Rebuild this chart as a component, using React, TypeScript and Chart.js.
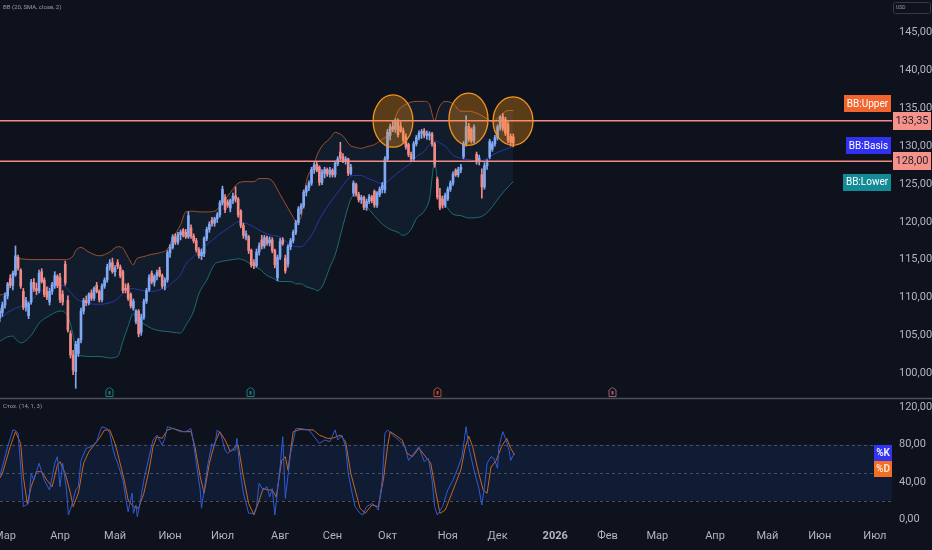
import React, { useEffect, useRef } from 'react';
import { Chart, registerables } from 'chart.js';

Chart.register(...registerables);

// ---------- data ----------
const firstIndex = -2; // bar index of first candle (0 = 3 Mar 2025)

// [open, high, low, close]
const candles: [number, number, number, number][] = [
  [107.3, 108.6, 106.8, 108.2], [108.0, 109.4, 107.5, 109.0], [109.0, 110.6, 108.6, 110.2], [110.2, 112.0, 109.8, 111.8],
  [112.5, 113.0, 111.3, 111.6], [111.6, 113.5, 111.0, 113.2], [113.0, 116.8, 112.8, 115.5], [115.3, 115.6, 113.6, 113.9],
  [113.6, 113.8, 111.2, 111.5], [110.8, 111.2, 108.4, 108.7], [108.7, 110.0, 108.2, 109.6], [107.6, 109.4, 107.2, 109.2],
  [109.4, 112.4, 109.1, 112.0], [112.0, 112.5, 110.8, 111.2], [111.2, 111.9, 110.4, 110.9], [110.9, 113.6, 110.6, 113.2],
  [113.4, 113.8, 111.9, 112.1], [112.3, 112.6, 110.1, 110.4], [110.8, 111.4, 109.7, 110.0], [109.4, 111.2, 109.0, 110.8],
  [110.8, 112.0, 110.4, 111.7], [111.6, 113.4, 111.2, 112.9], [112.8, 113.0, 111.3, 111.6], [112.6, 113.2, 109.3, 109.7],
  [110.4, 110.9, 109.0, 109.4], [114.4, 114.8, 111.6, 111.9], [109.6, 110.2, 105.4, 105.7], [105.2, 105.6, 102.0, 102.4],
  [102.4, 103.0, 99.8, 100.4], [100.2, 104.2, 98.0, 103.8], [102.6, 104.6, 102.2, 104.4], [104.4, 108.6, 104.0, 108.2],
  [108.2, 109.9, 107.8, 109.6], [109.6, 110.2, 108.9, 109.3], [109.3, 110.6, 109.0, 110.4], [110.6, 111.0, 109.6, 109.9],
  [109.9, 111.4, 109.6, 111.2], [111.6, 112.0, 110.6, 110.8], [110.8, 111.0, 109.4, 109.7], [109.7, 111.8, 109.4, 111.5],
  [111.5, 112.6, 111.2, 112.3], [112.3, 114.4, 112.0, 114.0], [114.0, 115.0, 113.6, 114.6], [114.6, 115.2, 113.2, 113.4],
  [113.4, 114.2, 112.8, 113.9], [114.6, 115.0, 113.8, 114.1], [114.0, 114.3, 112.6, 112.9], [113.4, 113.6, 110.6, 110.9],
  [111.2, 111.8, 110.6, 111.0], [111.6, 111.9, 109.6, 109.9], [110.4, 110.6, 108.6, 108.9], [108.6, 109.8, 108.3, 109.5],
  [106.8, 108.4, 106.5, 108.2], [108.2, 108.4, 104.8, 105.2], [105.4, 107.8, 105.0, 107.4], [107.4, 109.8, 107.1, 109.5],
  [109.5, 111.2, 109.2, 110.9], [111.0, 113.0, 110.8, 112.6], [113.2, 113.5, 111.8, 112.1], [112.0, 113.0, 111.5, 112.8],
  [112.8, 113.6, 112.3, 113.3], [113.6, 114.0, 112.7, 112.9], [112.9, 113.1, 111.2, 111.5], [111.5, 112.6, 111.0, 112.3],
  [112.3, 116.2, 112.0, 115.9], [115.9, 117.0, 115.3, 116.6], [116.6, 118.3, 116.4, 118.0], [118.0, 118.4, 117.0, 117.3],
  [117.3, 118.6, 117.0, 118.3], [118.3, 118.9, 117.6, 118.6], [118.9, 119.1, 118.0, 118.2], [118.6, 119.0, 117.8, 118.0],
  [118.0, 121.3, 117.8, 120.8], [119.2, 119.6, 117.8, 118.1], [118.1, 118.4, 117.2, 117.5], [117.5, 117.8, 116.0, 116.3],
  [116.3, 116.6, 115.2, 115.5], [115.5, 116.4, 115.0, 116.0], [115.8, 118.0, 115.4, 117.8], [117.8, 119.3, 117.5, 119.0],
  [119.0, 120.0, 118.6, 119.7], [120.2, 120.6, 119.4, 119.8], [119.8, 120.6, 119.4, 120.4], [120.4, 121.2, 119.9, 120.9],
  [120.9, 122.8, 120.6, 122.5], [122.5, 124.7, 122.2, 124.3], [123.2, 123.6, 121.2, 121.6], [122.6, 122.9, 121.9, 122.2],
  [121.8, 123.0, 121.3, 122.8], [122.8, 123.8, 122.4, 123.4], [123.4, 124.6, 122.6, 123.0], [123.0, 123.2, 120.6, 120.9],
  [121.4, 121.6, 119.2, 119.5], [119.5, 119.8, 117.8, 118.2], [118.0, 118.8, 117.6, 118.4], [118.0, 118.2, 115.8, 116.2],
  [116.2, 116.4, 114.0, 114.3], [114.6, 115.0, 113.8, 114.2], [114.2, 116.4, 114.0, 116.0], [116.0, 117.2, 115.6, 116.8],
  [117.6, 118.2, 116.4, 116.8], [116.8, 118.2, 116.5, 117.9], [117.9, 118.1, 116.9, 117.2], [117.2, 118.0, 116.8, 117.6],
  [117.6, 117.9, 115.9, 116.2], [116.2, 116.4, 113.9, 114.3], [112.6, 115.6, 112.2, 115.3], [115.3, 117.8, 115.0, 117.4],
  [117.6, 117.9, 116.9, 117.1], [115.2, 115.6, 113.2, 113.5], [114.4, 117.0, 114.0, 116.7], [116.7, 117.8, 116.3, 117.5],
  [117.5, 118.9, 117.2, 118.6], [118.6, 120.2, 118.3, 119.9], [119.9, 122.0, 119.6, 121.7], [121.7, 122.4, 121.0, 122.1],
  [122.1, 124.2, 121.8, 123.9], [123.9, 124.8, 123.4, 124.5], [124.5, 125.4, 124.1, 125.1], [125.1, 127.2, 124.8, 126.9],
  [126.9, 127.8, 126.4, 127.5], [127.6, 127.9, 126.6, 126.8], [127.2, 127.4, 124.8, 125.2], [125.2, 126.9, 124.9, 126.6],
  [126.4, 127.2, 125.8, 126.9], [126.9, 127.1, 126.0, 126.3], [126.3, 127.2, 125.9, 126.8], [126.8, 127.0, 125.9, 126.2],
  [126.2, 128.0, 125.9, 127.7], [127.7, 128.6, 127.4, 128.3], [129.2, 130.5, 128.1, 128.4], [128.6, 129.0, 127.8, 128.0],
  [128.0, 128.6, 127.6, 128.3], [128.3, 128.4, 126.1, 126.4], [126.4, 127.6, 126.2, 127.2], [123.8, 125.4, 123.4, 125.1],
  [124.9, 125.1, 123.4, 123.6], [123.6, 123.9, 122.6, 122.9], [122.9, 123.5, 122.4, 123.2], [123.2, 123.4, 121.6, 121.9],
  [121.9, 123.0, 121.5, 122.7], [122.7, 123.6, 122.4, 123.3], [123.3, 123.5, 122.5, 122.8], [124.0, 124.2, 121.9, 122.2],
  [122.2, 124.0, 121.9, 123.8], [123.6, 124.6, 123.3, 124.3], [124.3, 125.2, 123.8, 124.8], [124.2, 128.6, 123.8, 128.3],
  [128.3, 132.2, 128.0, 131.8], [131.4, 132.9, 130.8, 132.5], [132.6, 133.3, 131.9, 132.2], [132.2, 133.6, 131.8, 133.2],
  [133.2, 133.6, 131.2, 131.5], [132.6, 133.2, 131.8, 132.0], [132.0, 132.4, 130.5, 130.8], [131.2, 131.6, 129.6, 129.9],
  [130.2, 130.4, 128.6, 128.9], [128.9, 129.2, 128.0, 128.3], [128.3, 130.6, 128.0, 130.3], [130.3, 131.4, 130.0, 131.1],
  [131.1, 132.0, 130.8, 131.7], [131.7, 132.2, 131.0, 131.9], [132.0, 132.3, 131.1, 131.4], [131.4, 132.0, 130.9, 131.7],
  [131.4, 131.9, 130.8, 131.6], [131.6, 131.8, 130.0, 130.3], [130.3, 130.5, 127.2, 127.6], [125.6, 125.9, 123.0, 123.3],
  [123.4, 124.4, 121.6, 121.9], [123.0, 123.4, 121.8, 122.2], [122.2, 123.8, 121.9, 123.5], [123.0, 124.6, 122.8, 124.3],
  [124.3, 125.4, 124.0, 125.1], [125.1, 126.6, 124.8, 126.3], [126.8, 127.0, 126.0, 126.2], [126.2, 127.2, 125.9, 126.9],
  [126.9, 127.6, 126.5, 127.2], [128.6, 130.6, 128.3, 130.3], [130.3, 134.0, 130.0, 132.5], [132.6, 133.0, 130.6, 130.9],
  [132.2, 132.4, 130.4, 130.7], [130.7, 132.8, 130.4, 132.5], [128.9, 129.2, 127.6, 127.9], [127.9, 128.8, 127.5, 128.4],
  [126.2, 127.0, 123.1, 124.6], [124.6, 127.8, 124.3, 127.4], [127.4, 128.2, 126.9, 127.8], [128.6, 130.9, 128.3, 130.6],
  [129.6, 130.6, 129.3, 130.3], [130.3, 131.4, 130.0, 131.1], [131.1, 132.8, 130.8, 132.5], [132.5, 134.0, 132.1, 133.8],
  [133.9, 134.3, 132.0, 132.3], [133.5, 133.8, 131.4, 131.7], [132.9, 133.2, 130.4, 130.8], [131.3, 131.6, 130.0, 130.5],
  [131.2, 131.6, 129.9, 130.4],
];

// Bollinger bands (20, SMA, close, 2)
const bbIdx = [-2, 1, 3, 4, 5, 6, 10, 13, 17, 21, 23, 26, 27, 29, 32, 36, 40, 43, 45, 47, 49, 50, 53, 56, 59, 62, 64, 67, 69, 72, 74, 77, 80, 82, 85, 87, 89, 92, 95, 97, 100, 102, 105, 108, 110, 111, 113, 115, 118, 119, 121, 124, 126, 129, 132, 133, 136, 138, 141, 144, 147, 150, 152, 155, 157, 160, 162, 164, 165, 166, 168, 171, 174, 177, 181, 184, 186, 189, 192, 194];
const bbUpper = [110.3, 110.8, 112.4, 114.6, 115.0, 115.1, 115.0, 115.0, 115.0, 115.0, 115.0, 115.5, 116.2, 116.6, 116.0, 115.5, 116.0, 116.7, 116.5, 115.3, 114.3, 115.0, 115.4, 115.7, 115.9, 116.4, 117.8, 119.6, 121.3, 121.4, 121.3, 121.3, 121.4, 122.0, 123.4, 124.3, 125.1, 125.3, 125.3, 125.7, 125.7, 125.4, 123.6, 121.8, 120.6, 120.0, 120.6, 125.3, 127.6, 128.7, 130.0, 131.0, 131.8, 131.3, 130.0, 129.9, 129.7, 129.9, 130.2, 130.9, 131.8, 134.6, 135.3, 135.8, 135.9, 135.9, 135.5, 133.3, 134.4, 135.3, 135.9, 135.6, 134.6, 134.6, 134.2, 133.6, 133.2, 134.0, 134.7, 134.7];
const bbBasis = [107.2, 108.0, 108.4, 108.6, 108.7, 108.8, 109.6, 110.6, 111.4, 111.6, 111.4, 110.3, 109.9, 109.5, 109.2, 109.1, 109.3, 109.8, 110.5, 111.0, 111.2, 111.1, 110.9, 110.8, 111.0, 111.4, 112.0, 113.0, 114.4, 115.4, 116.1, 117.0, 117.8, 118.4, 119.1, 119.6, 120.0, 119.8, 119.3, 118.9, 118.4, 118.2, 118.0, 117.2, 116.8, 116.7, 116.7, 117.3, 118.8, 119.6, 120.9, 122.5, 123.4, 124.8, 126.0, 126.1, 126.1, 125.8, 125.4, 125.0, 125.6, 126.5, 127.0, 127.8, 128.6, 129.3, 130.2, 130.7, 130.6, 130.4, 130.0, 128.8, 128.4, 128.2, 128.0, 128.4, 128.8, 129.3, 129.7, 130.0];
const bbLower = [104.2, 104.8, 104.9, 104.5, 104.2, 104.0, 105.0, 106.6, 107.6, 108.2, 108.0, 105.0, 102.6, 102.3, 102.2, 102.2, 102.0, 102.2, 104.2, 106.2, 107.9, 107.2, 106.5, 105.9, 105.6, 105.5, 105.4, 105.3, 106.3, 108.2, 110.5, 112.3, 114.4, 114.7, 114.9, 115.0, 115.1, 114.8, 114.1, 113.8, 112.9, 112.6, 112.1, 112.1, 112.0, 111.8, 111.8, 111.4, 111.1, 110.9, 111.4, 114.0, 115.6, 119.5, 123.0, 123.4, 122.8, 122.0, 120.8, 119.7, 119.0, 118.6, 118.2, 119.0, 120.4, 121.4, 123.0, 127.8, 125.5, 123.7, 122.3, 121.0, 120.8, 120.5, 120.6, 121.2, 122.0, 123.4, 124.6, 125.3];

// Stochastic (14, 1, 3)
const kIdx = [-2, -1, 1, 3, 4, 5, 6, 7, 9, 10, 11, 13, 15, 17, 19, 20, 21, 22, 23.5, 24.2, 25.5, 27, 28, 29, 31, 33, 35, 36, 37, 39, 40, 41, 42, 43, 45, 46, 47, 48.5, 49, 50, 50.5, 51.5, 53, 55, 56.5, 58, 60, 61, 62, 64, 67, 69, 71, 72, 73, 74.5, 75, 76, 77.5, 79, 80, 81, 82.5, 84, 85, 86.5, 88, 88.5, 89.7, 91, 93, 95, 96, 97, 98.5, 100, 101, 102, 103, 105, 106, 107, 109, 111, 112.6, 116, 120, 122, 124, 126, 127, 128.6, 130, 131, 132.5, 133.6, 135.5, 136.6, 138, 140, 141, 142.5, 144, 145, 146, 148, 151, 152.7, 154, 156, 158, 160, 161.6, 163, 164, 165, 167, 169, 171, 173, 174.4, 176, 177, 179, 181, 182, 183, 184, 185.5, 186.6, 188, 188.5, 190, 191, 192.4, 193, 194.3];
const kVals = [45.7, 56, 77.7, 95.5, 95, 92, 56, 13.7, 17, 49, 42, 60, 42, 31.5, 60, 67, 35, 60, 31.5, 4.8, 15.5, 31.5, 35, 63, 76, 77.7, 83, 92, 99, 97, 92, 77.7, 67, 60, 42, 24, 8.3, 28, 6.6, 15.5, 3, 17, 42, 67, 84.8, 90, 79.5, 86.6, 99, 97.2, 93.7, 93.7, 97, 81, 60, 31.5, 12, 31.5, 60, 81, 77.7, 95.5, 90, 74, 70.6, 74, 74, 86.6, 52.8, 28, 6.6, 6.6, 13.7, 38.6, 31.5, 35, 24, 33, 4.8, 56, 88.3, 22.6, 70.6, 97, 97, 95.5, 81, 84.8, 83, 95.5, 84.8, 90, 77.7, 49, 28, 13.7, 6.6, 4.8, 13.7, 17, 15.5, 10, 42, 92, 95.5, 90, 83, 77.7, 63, 70.6, 77.7, 61.7, 65.2, 42, 13.7, 4.8, 13.7, 31.5, 42, 56, 67, 99, 77.7, 52.8, 31.5, 15.5, 35, 60, 67, 65, 54.6, 77.7, 93.7, 86.6, 74, 63, 70.6];
const dIdx = [-2, -1, 2, 4, 6, 7, 8.5, 10, 12, 14, 16, 18, 20, 21, 23, 25, 26, 28, 30, 32, 34, 36, 38, 40, 42, 43, 45.5, 47, 49, 51, 53, 55, 56.5, 58, 60, 62, 64, 68, 71, 72.5, 74.5, 76, 78, 80, 82, 84, 86, 88, 89, 91, 93, 95, 96.6, 98.5, 100.5, 102, 103.5, 105.6, 107, 108, 110, 112.6, 117.7, 120, 123, 125, 128, 130, 132, 134, 135.5, 137.5, 140, 142.5, 144.5, 146, 147, 149, 151.6, 153.5, 155.5, 158, 160, 162.5, 164.3, 166, 168, 170, 172, 174, 175.5, 177, 178.5, 180.5, 182.5, 184, 185.5, 187.5, 189.5, 191.5, 193, 194.5];
const dVals = [44, 49, 77.7, 93.7, 81, 45.7, 17, 35, 51, 51, 42, 35, 58, 61.7, 49, 28, 13.7, 28, 60, 72.3, 79.5, 86.6, 95.5, 95.5, 81, 70.6, 42, 20.8, 13.7, 12, 28, 52.8, 77.7, 88.3, 86.6, 95.5, 97.2, 93.7, 93.7, 77.7, 45.7, 28, 60, 81, 93.7, 84.8, 72.3, 77.7, 79.5, 45.7, 17, 4.8, 17, 33, 31.5, 31.5, 24, 63, 67, 52.8, 93.7, 96, 95.5, 90, 86.6, 86.6, 90, 83, 49, 28, 12, 6.6, 15.5, 13.7, 44, 77.7, 93.7, 90, 84.8, 70.6, 67, 76, 68.8, 60, 31.5, 6.6, 10, 24, 38.6, 52.8, 75, 89, 77.7, 52.8, 31.5, 28, 56, 63, 77.7, 86.6, 76, 68.8];

// axes
const monthTickIdx = [0, 21, 42, 63, 83, 105, 125, 146, 169, 188, 210, 230, 249, 271, 291, 311, 332];
const monthLabels = ['Мар', 'Апр', 'Май', 'Июн', 'Июл', 'Авг', 'Сен', 'Окт', 'Ноя', 'Дек', '2026', 'Фев', 'Мар', 'Апр', 'Май', 'Июн', 'Июл'];
const priceTicks = [100, 105, 110, 115, 120, 125, 130, 135, 140, 145];
const stochTicks = [0, 40, 80, 120];
const stochLevels = [20, 50, 80];

// drawings
const hLinePrices = [133.35, 128.0];
const circleIdx = [148.1, 176.9, 193.9];
const circlePrice = [133.3, 133.55, 133.3];
const circleRIdx = [7.6, 7.45, 7.6];
const circleRPrice = [3.45, 3.45, 3.2];
const eventIdx = [39.7, 93.5, 164.9, 231.7];
const eventColors = ['#1d7b80', '#1d7b80', '#c2492d', '#a35d6c'];
const bbTagText = ['BB:Upper', 'BB:Basis', 'BB:Lower'];
const bbTagPrice = [135.62, 130.07, 125.25];
const bbTagColors = ['#f2652f', '#3131f2', '#138b97'];

// ---------- styling ----------
const W = 932;
const H = 550;
const BG = '#0d121d';
const TEXT = '#b2b5be';
const FONT = 'Roboto, "Noto Sans", sans-serif';
const UP = '#82a9f3';
const DOWN = '#f08b88';

const fmt = (v: number) => v.toFixed(2).replace('.', ',');

function roundRect(ctx: CanvasRenderingContext2D, x: number, y: number, w: number, h: number, r: number) {
  ctx.beginPath();
  ctx.moveTo(x + r, y);
  ctx.lineTo(x + w - r, y);
  ctx.quadraticCurveTo(x + w, y, x + w, y + r);
  ctx.lineTo(x + w, y + h - r);
  ctx.quadraticCurveTo(x + w, y + h, x + w - r, y + h);
  ctx.lineTo(x + r, y + h);
  ctx.quadraticCurveTo(x, y + h, x, y + h - r);
  ctx.lineTo(x, y + r);
  ctx.quadraticCurveTo(x, y, x + r, y);
  ctx.closePath();
}

const decor = {
  id: 'tvDecor',
  beforeDraw(chart: any) {
    const { ctx, width, height } = chart;
    ctx.save();
    ctx.fillStyle = BG;
    ctx.fillRect(0, 0, width, height);
    ctx.restore();
  },
  beforeDatasetsDraw(chart: any) {
    const { ctx, chartArea } = chart;
    const y2 = chart.scales.y2;
    ctx.save();
    const top = y2.getPixelForValue(stochLevels[2]);
    const bot = y2.getPixelForValue(stochLevels[0]);
    ctx.fillStyle = 'rgba(30, 95, 190, 0.14)';
    ctx.fillRect(chartArea.left, top, chartArea.right - chartArea.left, bot - top);
    ctx.setLineDash([3, 3]);
    ctx.strokeStyle = '#4a4f5b';
    ctx.lineWidth = 1;
    for (const v of stochLevels) {
      const py = Math.round(y2.getPixelForValue(v)) + 0.5;
      ctx.beginPath();
      ctx.moveTo(chartArea.left, py);
      ctx.lineTo(chartArea.right, py);
      ctx.stroke();
    }
    ctx.restore();
  },
  afterDatasetsDraw(chart: any) {
    const { ctx, chartArea } = chart;
    const x = chart.scales.x;
    const y = chart.scales.y;
    ctx.save();
    // horizontal price lines
    ctx.strokeStyle = '#f28b85';
    ctx.lineWidth = 1.5;
    for (const p of hLinePrices) {
      const py = y.getPixelForValue(p);
      ctx.beginPath();
      ctx.moveTo(chartArea.left, py);
      ctx.lineTo(chartArea.right, py);
      ctx.stroke();
    }
    // circles
    for (let k = 0; k < circleIdx.length; k++) {
      const cx = x.getPixelForValue(circleIdx[k]);
      const cy = y.getPixelForValue(circlePrice[k]);
      const rx = Math.abs(x.getPixelForValue(circleIdx[k] + circleRIdx[k]) - cx);
      const ry = Math.abs(y.getPixelForValue(circlePrice[k] + circleRPrice[k]) - cy);
      ctx.beginPath();
      ctx.ellipse(cx, cy, rx, ry, 0, 0, Math.PI * 2);
      ctx.fillStyle = 'rgba(255, 150, 20, 0.32)';
      ctx.fill();
      ctx.strokeStyle = '#f5941f';
      ctx.lineWidth = 1.3;
      ctx.stroke();
    }
    // event markers
    const ey = y.bottom - 6;
    for (let k = 0; k < eventIdx.length; k++) {
      const ex = Math.round(x.getPixelForValue(eventIdx[k])) + 0.5;
      ctx.beginPath();
      ctx.moveTo(ex - 3.5, ey + 4.5);
      ctx.lineTo(ex + 3.5, ey + 4.5);
      ctx.lineTo(ex + 3.5, ey - 2);
      ctx.lineTo(ex, ey - 4.5);
      ctx.lineTo(ex - 3.5, ey - 2);
      ctx.closePath();
      ctx.fillStyle = BG;
      ctx.fill();
      ctx.strokeStyle = eventColors[k];
      ctx.lineWidth = 1;
      ctx.stroke();
      ctx.fillStyle = eventColors[k];
      ctx.fillRect(ex - 1, ey - 1, 2, 3.5);
    }
    // pane separator
    ctx.strokeStyle = '#4c505b';
    ctx.lineWidth = 1.5;
    ctx.beginPath();
    ctx.moveTo(0, y.bottom + 0.5);
    ctx.lineTo(W, y.bottom + 0.5);
    ctx.stroke();
    // indicator titles
    ctx.fillStyle = '#9a9da6';
    ctx.font = `6px ${FONT}`;
    ctx.textBaseline = 'middle';
    ctx.textAlign = 'left';
    ctx.fillText('BB (20, SMA, close, 2)', 3, 7);
    ctx.fillText('Стох. (14, 1, 3)', 3, y.bottom + 8);
    ctx.restore();
  },
  afterDraw(chart: any) {
    const { ctx, chartArea } = chart;
    const y = chart.scales.y;
    const y2 = chart.scales.y2;
    ctx.save();
    ctx.textBaseline = 'middle';
    ctx.textAlign = 'center';
    // BB tags
    ctx.font = `10px ${FONT}`;
    for (let k = 0; k < bbTagText.length; k++) {
      const tw = ctx.measureText(bbTagText[k]).width;
      const w = Math.round(tw + 6);
      const cy = y.getPixelForValue(bbTagPrice[k]);
      const xr = chartArea.right - 1;
      ctx.fillStyle = bbTagColors[k];
      ctx.fillRect(xr - w, Math.round(cy - 8.5), w, 17);
      ctx.fillStyle = '#ffffff';
      ctx.fillText(bbTagText[k], xr - w / 2, cy + 0.5);
    }
    // price line labels
    ctx.font = `11px ${FONT}`;
    for (const p of hLinePrices) {
      const cy = y.getPixelForValue(p);
      ctx.fillStyle = '#f7928b';
      ctx.fillRect(chartArea.right + 1, Math.round(cy - 9), 38, 18);
      ctx.fillStyle = '#1b1f2b';
      ctx.fillText(fmt(p), chartArea.right + 20, cy + 0.5);
    }
    // %K / %D tags
    const kLast = kVals[kVals.length - 1];
    const kc = y2.getPixelForValue(kLast);
    ctx.font = `bold 10px ${FONT}`;
    ctx.fillStyle = '#3434ee';
    ctx.fillRect(chartArea.right - 18, Math.round(kc - 8), 18, 16);
    ctx.fillStyle = '#f36e22';
    ctx.fillRect(chartArea.right - 18, Math.round(kc + 8), 18, 16);
    ctx.fillStyle = '#e8ecff';
    ctx.fillText('%K', chartArea.right - 9, kc + 0.5);
    ctx.fillStyle = '#ffe2cf';
    ctx.fillText('%D', chartArea.right - 9, kc + 16.5);
    // USD badge
    ctx.strokeStyle = '#363a46';
    ctx.lineWidth = 1;
    roundRect(ctx, 893.5, 2.5, 37, 11, 2);
    ctx.stroke();
    ctx.fillStyle = '#9a9da6';
    ctx.font = `5px ${FONT}`;
    ctx.textAlign = 'left';
    ctx.fillText('USD', 896, 8);
    ctx.restore();
  },
};

export default function App() {
  const ref = useRef<HTMLCanvasElement>(null);

  useEffect(() => {
    document.body.style.margin = '0';
    document.body.style.background = BG;
    const canvas = ref.current;
    if (!canvas) return;

    const colors = candles.map((c) => (c[3] >= c[0] ? UP : DOWN));
    const wickData = candles.map((c, k) => ({ x: firstIndex + k, y: [c[2], c[1]] }));
    const bodyData = candles.map((c, k) => ({
      x: firstIndex + k,
      y: [Math.min(c[0], c[3]), Math.max(c[0], c[3])],
    }));
    const pts = (xs: number[], ys: number[]) => xs.map((v, k) => ({ x: v, y: ys[k] }));

    const fitY = (s: any) => {
      s.width = 40;
      s.paddingTop = 0;
      s.paddingBottom = 0;
    };

    const chart = new Chart(canvas, {
      type: 'bar',
      data: {
        datasets: [
          {
            type: 'bar',
            data: wickData as any,
            backgroundColor: colors,
            barThickness: 1,
            grouped: false,
            yAxisID: 'y',
          },
          {
            type: 'bar',
            data: bodyData as any,
            backgroundColor: colors,
            barThickness: 2,
            grouped: false,
            yAxisID: 'y',
          },
          {
            type: 'line',
            data: pts(bbIdx, bbUpper) as any,
            borderColor: '#9e4f2d',
            borderWidth: 1,
            pointRadius: 0,
            cubicInterpolationMode: 'monotone',
            yAxisID: 'y',
            fill: false,
          },
          {
            type: 'line',
            data: pts(bbIdx, bbBasis) as any,
            borderColor: '#2b36a3',
            borderWidth: 1,
            pointRadius: 0,
            cubicInterpolationMode: 'monotone',
            yAxisID: 'y',
            fill: false,
          },
          {
            type: 'line',
            data: pts(bbIdx, bbLower) as any,
            borderColor: '#1d6c70',
            borderWidth: 1,
            pointRadius: 0,
            cubicInterpolationMode: 'monotone',
            yAxisID: 'y',
            fill: { target: 2, above: 'rgba(45, 80, 130, 0.16)', below: 'rgba(45, 80, 130, 0.16)' },
          },
          {
            type: 'line',
            data: pts(kIdx, kVals) as any,
            borderColor: '#2f5bd3',
            borderWidth: 1,
            pointRadius: 0,
            yAxisID: 'y2',
            fill: false,
          },
          {
            type: 'line',
            data: pts(dIdx, dVals) as any,
            borderColor: '#c9651f',
            borderWidth: 1,
            pointRadius: 0,
            yAxisID: 'y2',
            fill: false,
          },
        ] as any,
      },
      options: {
        animation: false,
        responsive: false,
        events: [],
        layout: { padding: 0 },
        plugins: {
          legend: { display: false },
          tooltip: { enabled: false },
          filler: { drawTime: 'beforeDatasetsDraw' } as any,
        },
        scales: {
          x: {
            type: 'linear',
            min: -5 / 2.62,
            max: 887 / 2.62,
            offset: false,
            bounds: 'data',
            position: 'bottom',
            grid: { display: false, drawTicks: false },
            border: { display: false },
            afterBuildTicks: (s: any) => {
              s.ticks = monthTickIdx.map((v) => ({ value: v }));
            },
            afterFit: (s: any) => {
              s.height = 23;
              s.paddingLeft = 0;
              s.paddingRight = 0;
            },
            ticks: {
              autoSkip: false,
              maxRotation: 0,
              padding: 3,
              color: TEXT,
              font: (c: any) => ({
                family: FONT,
                size: 11,
                weight: c.tick && monthLabels[monthTickIdx.indexOf(c.tick.value)] === '2026' ? 'bold' : 'normal',
              }),
              callback: (v: any) => {
                const k = monthTickIdx.indexOf(Number(v));
                return k >= 0 ? monthLabels[k] : '';
              },
            },
          },
          y: {
            type: 'linear',
            position: 'right',
            stack: 'panes',
            stackWeight: 398,
            min: 145 - 365.5 / 7.57,
            max: 145 + 32.5 / 7.57,
            bounds: 'data',
            grid: { display: false, drawTicks: false },
            border: { display: false },
            afterBuildTicks: (s: any) => {
              s.ticks = priceTicks.map((v) => ({ value: v }));
            },
            afterFit: fitY,
            ticks: {
              padding: 7,
              color: TEXT,
              font: { family: FONT, size: 11 },
              callback: (v: any) => fmt(Number(v)),
            },
          },
          y2: {
            type: 'linear',
            position: 'right',
            stack: 'panes',
            stackWeight: 129,
            offset: false,
            min: -8,
            max: 129.6,
            bounds: 'data',
            grid: { display: false, drawTicks: false },
            border: { display: false },
            afterBuildTicks: (s: any) => {
              s.ticks = stochTicks.map((v) => ({ value: v }));
            },
            afterFit: fitY,
            ticks: {
              padding: 7,
              color: TEXT,
              font: { family: FONT, size: 11 },
              callback: (v: any) => fmt(Number(v)),
            },
          },
        },
      } as any,
      plugins: [decor as any],
    });

    return () => chart.destroy();
  }, []);

  return (
    <div style={{ position: 'fixed', left: 0, top: 0, width: W, height: H, background: BG }}>
      <canvas ref={ref} width={W} height={H} style={{ width: W, height: H, display: 'block' }} />
    </div>
  );
}
